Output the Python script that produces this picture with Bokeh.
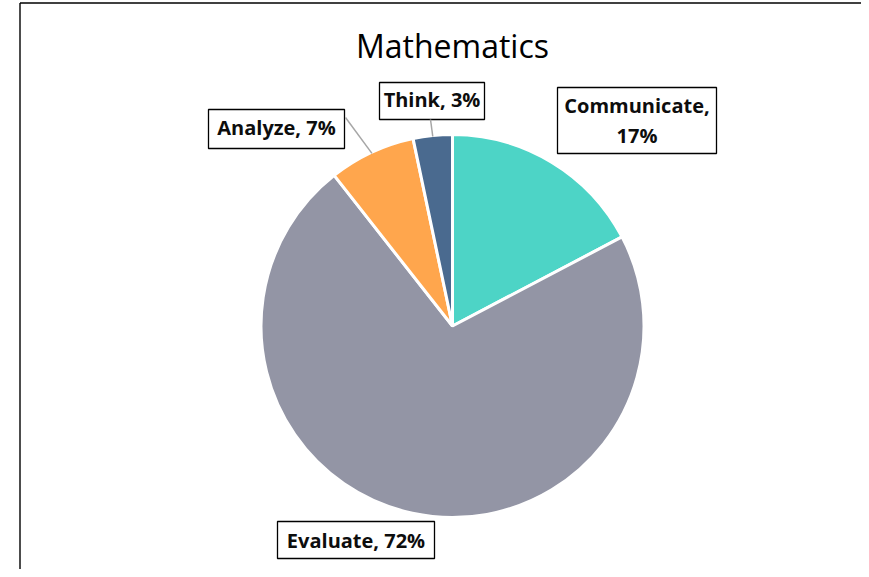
import math
import numpy as np
from bokeh.plotting import figure
from bokeh.models import Range1d, ColumnDataSource
from bokeh.embed import file_html
from bokeh.resources import INLINE
from bokeh.core.properties import value

# ---------------- data ----------------
title_text = "Mathematics"
categories = ["Communicate", "Evaluate", "Analyze", "Think"]
shares = [17.3, 72.1, 7.3, 3.3]
colors = ["#4DD4C6", "#9395A5", "#FFA64D", "#4A6A8F"]

# ---------------- layout ----------------
W, H = 861, 569
OX, OY = 0, 0          # observed page offset of the figure


def X(px):
    return px - OX


def Y(py):
    return H - (py - OY)


p = figure(width=W, height=H, output_backend="svg", toolbar_location=None,
           x_range=Range1d(0, W), y_range=Range1d(0, H),
           min_border=0, outline_line_color=None)
p.xaxis.visible = False
p.yaxis.visible = False
p.xgrid.visible = False
p.ygrid.visible = False
p.background_fill_color = "white"
p.border_fill_color = "white"

# chart frame (only top and left visible in the reference)
p.segment(x0=[X(19.5), X(19.5)], y0=[Y(2.5), Y(2.5)],
          x1=[X(880), X(19.5)], y1=[Y(2.5), Y(600)],
          line_color="#000000", line_width=1.4)

# ---------------- pie ----------------
cx, cy, r = X(452), Y(325.5), 191.5
vals = np.array(shares, dtype=float)
frac = vals / vals.sum()
cum_end = np.cumsum(frac)
cum_start = cum_end - frac
start_ang = math.pi / 2 - 2 * math.pi * cum_start
end_ang = math.pi / 2 - 2 * math.pi * cum_end
mid_ang = (start_ang + end_ang) / 2

src = ColumnDataSource(dict(cat=categories, start=start_ang, end=end_ang, color=colors))
p.wedge(x=cx, y=cy, radius=r, start_angle="start", end_angle="end",
        direction="clock", fill_color="color", line_color="white",
        line_width=3, source=src)

# ---------------- labels ----------------
pct = [int(round(f * 100)) for f in frac]
wrap = [True, False, False, False]
label_lines = []
for c, v, w in zip(categories, pct, wrap):
    if w:
        label_lines.append([f"{c},", f"{v}%"])
    else:
        label_lines.append([f"{c}, {v}%"])

# box geometry (page px): left, top, right, bottom
boxes = [(557, 87, 716, 153), (277, 521, 434, 558), (208, 109, 344, 148), (379, 82, 484, 119)]
# vertical centre of the capitals (page px) per text line
line_mid = [[105, 135], [539.5], [127], [99]]

bx, by, bw, bh = [], [], [], []
for (l, t, rr, b) in boxes:
    bx.append(X((l + rr) / 2))
    by.append(Y((t + b) / 2))
    bw.append(rr - l)
    bh.append(b - t)
p.rect(x=bx, y=by, width=bw, height=bh, fill_color="white",
       line_color="#000000", line_width=1.3)

tx, ty, tt = [], [], []
for lines, mids, (l, t, rr, b) in zip(label_lines, line_mid, boxes):
    for s, ym in zip(lines, mids):
        tx.append(X((l + rr) / 2))
        ty.append(Y(ym))
        tt.append(s)
p.text(x=tx, y=ty, text=tt, text_font=value("Open Sans"), text_font_style="bold",
       text_font_size="20px", text_align="center", text_baseline="middle",
       text_color="#0D0D0D")

# leader lines for small slices (Analyze, Think)
anchors = {2: (345, 117), 3: (430, 119)}
lx0, ly0, lx1, ly1 = [], [], [], []
for i, (ax, ay) in anchors.items():
    lx0.append(X(ax))
    ly0.append(Y(ay))
    lx1.append(cx + (r - 1) * math.cos(mid_ang[i]))
    ly1.append(cy + (r - 1) * math.sin(mid_ang[i]))
p.segment(x0=lx0, y0=ly0, x1=lx1, y1=ly1, line_color="#A6A6A6", line_width=1.5)

# ---------------- title ----------------
p.text(x=[X(452)], y=[Y(45)], text=[title_text], text_font=value("Open Sans"),
       text_font_size="32px", text_align="center", text_baseline="middle",
       text_color="#000000")

open("out.html", "w").write(file_html(p, INLINE))
